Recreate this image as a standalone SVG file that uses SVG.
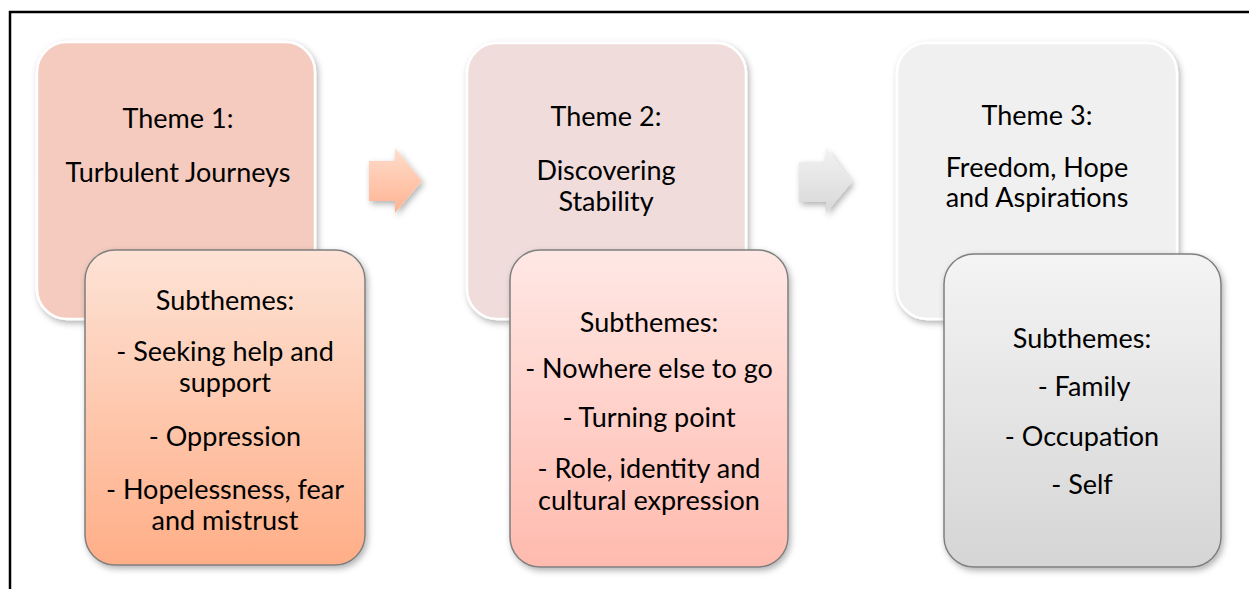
<svg xmlns="http://www.w3.org/2000/svg" width="1249" height="589" viewBox="0 0 1249 589">
<defs>
<filter id="sh" x="-10%" y="-10%" width="125%" height="125%">
<feDropShadow dx="2" dy="3" stdDeviation="3" flood-color="#000" flood-opacity="0.3"/>
</filter>
<linearGradient id="g1" x1="0" y1="0" x2="0" y2="1"><stop offset="0" stop-color="#FDE3D6"/><stop offset="1" stop-color="#FFAE87"/></linearGradient>
<linearGradient id="g2" x1="0" y1="0" x2="0" y2="1"><stop offset="0" stop-color="#FFE8E5"/><stop offset="1" stop-color="#FFBAAE"/></linearGradient>
<linearGradient id="g3" x1="0" y1="0" x2="0" y2="1"><stop offset="0" stop-color="#F4F4F4"/><stop offset="1" stop-color="#D5D5D5"/></linearGradient>
<linearGradient id="a1" x1="0" y1="0" x2="0" y2="1"><stop offset="0" stop-color="#FFDDCC"/><stop offset="1" stop-color="#FFB391"/></linearGradient>
<linearGradient id="a2" x1="0" y1="0" x2="0" y2="1"><stop offset="0" stop-color="#F2F2F2"/><stop offset="1" stop-color="#D8D8D8"/></linearGradient>
</defs>
<style>
.theme{stroke:#FFFFFF;stroke-width:2.5;filter:url(#sh)}
.sub{stroke:#7F7F7F;stroke-width:1.5;filter:url(#sh)}
.arrow{filter:url(#sh)}
text{font-family:Lato,"Liberation Sans",sans-serif;font-size:27px;fill:#000;text-anchor:middle}
</style>
<rect x="10" y="12" width="1260" height="600" fill="#FFFFFF" stroke="#000000" stroke-width="2.5"/>
<g id="connectors">
<path class="arrow" d="M369,161 H395 V148 L422,181 L395,213 V201 H369 Z" fill="url(#a1)"/>
<path class="arrow" d="M799,162 H826 V148 L852,182 L826,213 V202 H799 Z" fill="url(#a2)"/>
</g>
<g id="theme1">
<rect class="theme" x="37" y="42" width="278" height="277" rx="30" fill="#F4CBBE"/>
<text x="178" y="128">Theme 1:</text>
<text x="178" y="182">Turbulent Journeys</text>
</g>
<g id="sub1">
<rect class="sub" x="85" y="250" width="280" height="315" rx="30" fill="url(#g1)"/>
<text x="225" y="310">Subthemes:</text>
<text x="225" y="361">- Seeking help and</text>
<text x="225" y="392">support</text>
<text x="225" y="446">- Oppression</text>
<text x="225" y="499">- Hopelessness, fear</text>
<text x="225" y="530">and mistrust</text>
</g>
<g id="theme2">
<rect class="theme" x="467" y="43" width="279" height="276" rx="30" fill="#EFDCDB"/>
<text x="606" y="126">Theme 2:</text>
<text x="606" y="180">Discovering</text>
<text x="606" y="211">Stability</text>
</g>
<g id="sub2">
<rect class="sub" x="510" y="250" width="278" height="317" rx="30" fill="url(#g2)"/>
<text x="649" y="332">Subthemes:</text>
<text x="649" y="378">- Nowhere else to go</text>
<text x="649" y="427">- Turning point</text>
<text x="649" y="478">- Role, identity and</text>
<text x="649" y="510">cultural expression</text>
</g>
<g id="theme3">
<rect class="theme" x="897" y="43" width="280" height="276" rx="30" fill="#F0F0F0"/>
<text x="1037" y="125">Theme 3:</text>
<text x="1037" y="177">Freedom, Hope</text>
<text x="1037" y="207">and Aspirations</text>
</g>
<g id="sub3">
<rect class="sub" x="944" y="254" width="277" height="313" rx="30" fill="url(#g3)"/>
<text x="1082" y="348">Subthemes:</text>
<text x="1084" y="396">- Family</text>
<text x="1082" y="446">- Occupation</text>
<text x="1082" y="494">- Self</text>
</g>
</svg>
